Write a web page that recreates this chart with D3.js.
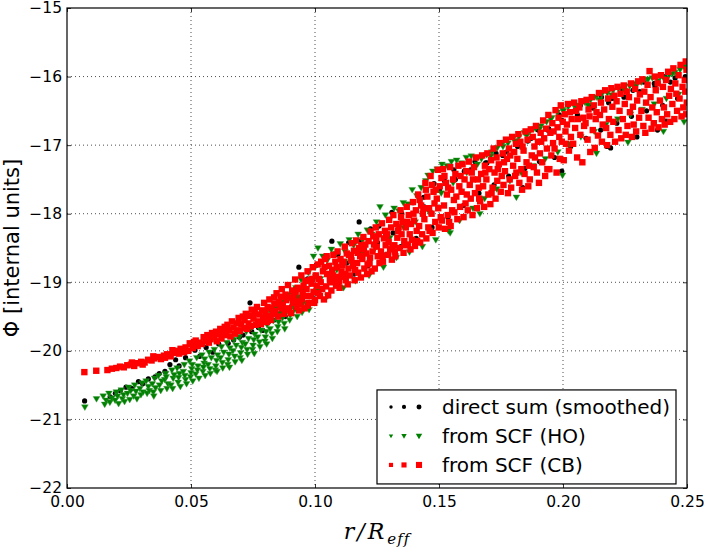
<!DOCTYPE html>
<html>
<head>
<meta charset="utf-8">
<script src="https://cdn.jsdelivr.net/npm/d3@7/dist/d3.min.js"></script>
<style>
  html, body { margin: 0; padding: 0; background: #fff; }
  svg { display: block; }
</style>
</head>
<body>
<div id="chart"></div>
<script>
/** tick values and labels */
const xTicks = [0, 0.05, 0.1, 0.15, 0.2, 0.25];
const yTicks = [-22, -21, -20, -19, -18, -17, -16, -15];
const xDomain = [0, 0.25];
const yDomain = [-22, -15];
const legendLabels = ["direct sum (smoothed)", "from SCF (HO)", "from SCF (CB)"];

/** direct sum (smoothed): [r/Reff, Phi] */
const directSum = [
  [0.0071,-20.73],[0.0174,-20.67],[0.0195,-20.62],[0.0215,-20.58],[0.0238,-20.53],[0.0262,-20.55],
  [0.0288,-20.45],[0.0305,-20.48],[0.0328,-20.41],[0.0355,-20.38],[0.0372,-20.33],[0.0395,-20.3],
  [0.0415,-20.2],[0.0438,-20.13],[0.0452,-20.22],[0.0478,-20.1],[0.0516,-19.99],[0.0535,-20.08],
  [0.0561,-19.95],[0.0588,-20.02],[0.0612,-19.9],[0.065,-19.89],[0.0672,-19.84],[0.0695,-19.8],
  [0.071,-19.77],[0.0738,-19.3],[0.0745,-19.72],[0.0772,-19.66],[0.079,-19.7],[0.0812,-19.58],
  [0.0835,-19.55],[0.0862,-19.45],[0.088,-19.5],[0.0905,-19.35],[0.092,-19.1],[0.0946,-19.25],
  [0.097,-18.95],[0.0988,-19.2],[0.0935,-18.78],[0.1068,-18.4],[0.1178,-18.12],
  [0.1005,-18.75],[0.1048,-18.62],[0.1092,-18.6],[0.1136,-18.42],[0.118,-18.4],[0.1224,-18.22],
  [0.1258,-18.18],[0.131,-17.98],[0.135,-18.0],[0.1395,-17.84],[0.1438,-17.76],[0.148,-17.56],
  [0.1522,-17.52],[0.156,-17.36],[0.1602,-17.38],[0.1645,-17.24],[0.1688,-17.26],[0.173,-17.12],
  [0.1772,-17.1],[0.1815,-16.94],[0.1858,-16.94],[0.19,-16.78],[0.1942,-16.76],[0.1985,-16.56],
  [0.2028,-16.52],[0.207,-16.42],[0.2112,-16.42],[0.2155,-16.3],[0.2198,-16.32],[0.224,-16.18],
  [0.2282,-16.2],[0.2325,-16.08],[0.2368,-16.1],[0.241,-16.0],[0.2452,-16.02],[0.2495,-15.86],
  [0.1018,-19.12],[0.1064,-18.9],[0.1093,-19.02],[0.1127,-18.72],[0.1158,-18.88],[0.1189,-18.55],
  [0.1213,-18.76],[0.1252,-18.42],[0.1283,-18.6],[0.1315,-18.28],[0.1346,-18.48],[0.1373,-18.16],
  [0.1408,-18.36],[0.1441,-17.9],[0.1472,-18.2],[0.1502,-17.66],[0.1536,-18.05],[0.1566,-17.5],
  [0.1598,-17.88],[0.1627,-17.36],[0.1661,-17.7],[0.1693,-17.26],[0.1722,-17.58],[0.1757,-17.15],
  [0.1781,-17.45],[0.1817,-17.02],[0.1846,-17.34],[0.1872,-16.9],[0.1905,-17.24],[0.1938,-16.78],
  [0.1966,-17.18],[0.1996,-16.64],[0.2031,-17.02],[0.2058,-16.56],[0.2093,-16.9],[0.2121,-16.46],
  [0.2152,-16.78],[0.2184,-16.38],[0.2217,-16.68],[0.2246,-16.3],[0.2276,-16.58],[0.2309,-16.22],
  [0.2337,-16.5],[0.2371,-16.14],[0.2402,-16.42],[0.2433,-16.08],[0.2462,-16.32],[0.2493,-16.0],
  [0.1838,-17.62],[0.1995,-17.38],[0.2178,-17.02],[0.2298,-16.88],[0.2415,-16.65],[0.2381,-16.78],
  [0.2192,-17.04]
];

/** from SCF (HO) */
const scfHO = [
  [0.0072,-20.82],[0.0119,-20.7],
  [0.0146,-20.66],[0.0152,-20.78],[0.0158,-20.72],[0.0169,-20.62],[0.0173,-20.75],[0.0181,-20.69],
  [0.0194,-20.72],[0.0199,-20.6],[0.0204,-20.66],[0.0208,-20.77],[0.0219,-20.57],[0.0223,-20.7],
  [0.0228,-20.64],[0.0232,-20.74],[0.0244,-20.62],[0.0248,-20.53],[0.0253,-20.71],[0.0257,-20.58],
  [0.0269,-20.66],[0.0273,-20.5],[0.0278,-20.59],[0.0282,-20.7],[0.0294,-20.55],[0.0298,-20.64],
  [0.0303,-20.47],[0.0307,-20.6],[0.0319,-20.44],[0.0323,-20.62],[0.0328,-20.52],[0.0332,-20.58],
  [0.0344,-20.48],[0.0348,-20.6],[0.0353,-20.4],[0.0357,-20.54],[0.035,-20.66],[0.0369,-20.36],
  [0.0373,-20.5],[0.0378,-20.58],[0.0382,-20.44],[0.0394,-20.42],[0.0398,-20.33],[0.0403,-20.55],
  [0.0407,-20.48],[0.04,-20.38],[0.0419,-20.5],[0.0423,-20.28],[0.0428,-20.4],[0.0432,-20.35],
  [0.0426,-20.55],[0.0444,-20.25],[0.0448,-20.46],[0.0453,-20.33],[0.0457,-20.52],[0.045,-20.39],
  [0.0469,-20.3],[0.0473,-20.2],[0.0478,-20.42],[0.0482,-20.48],[0.0475,-20.36],[0.0494,-20.15],
  [0.0498,-20.38],[0.0503,-20.26],[0.0507,-20.44],[0.05,-20.32],[0.0505,-20.2],[0.0519,-20.34],
  [0.0523,-20.1],[0.0528,-20.22],[0.0532,-20.4],[0.0526,-20.28],[0.0544,-20.06],[0.0548,-20.3],
  [0.0553,-20.18],[0.0557,-20.36],[0.055,-20.24],[0.0555,-20.12],[0.0569,-20.2],[0.0573,-20.02],
  [0.0578,-20.33],[0.0582,-20.1],[0.0576,-20.26],[0.0594,-19.98],[0.0598,-20.28],[0.0603,-20.14],
  [0.0607,-20.06],[0.06,-20.22],[0.0605,-20.3],[0.0619,-20.1],[0.0623,-19.94],[0.0628,-20.25],
  [0.0632,-20.02],[0.0626,-20.17],[0.0644,-19.88],[0.0648,-20.2],[0.0653,-20.05],[0.0657,-19.96],
  [0.065,-20.13],[0.0655,-20.24],[0.0669,-20.0],[0.0673,-19.84],[0.0678,-20.16],[0.0682,-19.92],
  [0.0676,-20.08],[0.0694,-19.8],[0.0698,-20.1],[0.0703,-19.95],[0.0707,-19.88],[0.07,-20.03],
  [0.0705,-20.14],[0.0719,-19.9],[0.0723,-19.72],[0.0728,-20.05],[0.0732,-19.82],[0.0726,-19.98],
  [0.0744,-19.66],[0.0748,-19.98],[0.0753,-19.84],[0.0757,-19.76],[0.075,-19.92],[0.0755,-20.04],
  [0.0769,-19.8],[0.0773,-19.58],[0.0778,-19.94],[0.0782,-19.7],[0.0776,-19.87],[0.0794,-19.5],
  [0.0798,-19.86],[0.0803,-19.72],[0.0807,-19.62],[0.08,-19.8],[0.0805,-19.9],[0.0819,-19.68],
  [0.0823,-19.44],[0.0828,-19.82],[0.0832,-19.56],[0.0826,-19.75],[0.0844,-19.36],[0.0848,-19.72],
  [0.0853,-19.58],[0.0857,-19.46],[0.085,-19.65],[0.0869,-19.52],[0.0873,-19.28],[0.0878,-19.68],
  [0.0882,-19.4],[0.0876,-19.6],[0.0894,-19.18],[0.0898,-19.55],[0.0903,-19.38],[0.0907,-19.28],
  [0.09,-19.48],[0.0919,-19.4],[0.0923,-19.08],[0.0928,-19.5],[0.0932,-19.22],[0.0926,-19.32],
  [0.0944,-18.96],[0.0948,-19.44],[0.0953,-19.3],[0.0957,-19.12],[0.095,-19.2],[0.0969,-19.36],
  [0.0973,-18.86],[0.0978,-19.2],[0.0982,-19.02],[0.0976,-19.4],[0.0994,-18.62],[0.0998,-19.3],
  [0.1003,-18.92],[0.1007,-19.12],[0.1,-18.78],
  [0.1012,-18.5],[0.1031,-18.62],[0.1049,-18.68],[0.1066,-18.52],[0.1084,-18.58],[0.1102,-18.44],
  [0.1121,-18.55],[0.1138,-18.38],[0.1156,-18.46],[0.1174,-18.3],[0.1192,-18.38],[0.1211,-18.24],
  [0.1229,-18.3],[0.1248,-18.12],[0.1262,-17.9],[0.1284,-18.02],[0.1301,-18.08],[0.1319,-17.92],
  [0.1338,-17.96],[0.1356,-17.84],[0.1375,-17.86],[0.1392,-17.65],[0.1411,-17.74],[0.1428,-17.62],
  [0.1447,-17.52],[0.1456,-17.44],[0.1475,-17.38],[0.1493,-17.35],[0.1512,-17.28],[0.1532,-17.3],
  [0.155,-17.24],[0.1571,-17.22],[0.159,-17.26],[0.161,-17.18],[0.163,-17.16],
  [0.1652,-17.18],[0.1671,-17.2],[0.1692,-17.14],[0.1713,-17.1],[0.1735,-17.04],[0.1756,-16.98],
  [0.1778,-16.97],[0.1799,-16.9],[0.1822,-16.88],[0.1844,-16.82],[0.1866,-16.8],[0.1888,-16.76],
  [0.1911,-16.72],[0.1934,-16.66],[0.1955,-16.6],[0.1977,-16.52],[0.1998,-16.48],[0.2021,-16.44],
  [0.2044,-16.42],[0.2066,-16.42],[0.2089,-16.38],[0.2111,-16.34],[0.2134,-16.3],[0.2156,-16.26],
  [0.2179,-16.24],[0.2202,-16.2],[0.2224,-16.18],[0.2247,-16.16],[0.2269,-16.14],[0.2292,-16.1],
  [0.2316,-16.08],[0.2338,-16.04],[0.236,-16.02],[0.2383,-16.06],[0.2405,-16.02],[0.2428,-15.98],
  [0.2451,-15.94],[0.2472,-15.9],[0.2494,-15.84],
  [0.1022,-18.95],[0.1051,-19.2],[0.1088,-18.82],[0.1115,-19.08],[0.1142,-18.7],[0.1163,-18.98],
  [0.1196,-18.58],[0.1218,-18.9],[0.1243,-18.5],[0.1276,-18.78],[0.1302,-18.35],[0.1328,-18.64],
  [0.1357,-18.2],[0.1381,-18.56],[0.1404,-18.12],[0.1433,-18.48],[0.1461,-17.98],[0.1487,-18.38],
  [0.1509,-17.7],[0.1538,-18.25],[0.1557,-17.55],[0.1583,-18.1],[0.1612,-17.4],[0.1637,-17.92],
  [0.1655,-17.28],[0.1684,-17.78],[0.1709,-17.16],[0.1733,-17.64],[0.1758,-17.02],[0.1786,-17.52],
  [0.1806,-16.94],[0.1831,-17.4],[0.1854,-16.86],[0.1879,-17.3],[0.1906,-16.76],[0.1929,-17.2],
  [0.1951,-16.62],[0.1979,-17.1],[0.2002,-16.5],[0.2026,-16.98],[0.2055,-16.46],[0.2072,-16.88],
  [0.2101,-16.42],[0.2126,-16.8],[0.2147,-16.34],[0.2173,-16.7],[0.2196,-16.27],[0.2221,-16.62],
  [0.2248,-16.2],[0.2272,-16.55],[0.2294,-16.14],[0.2319,-16.48],[0.2343,-16.04],[0.2368,-16.4],
  [0.2392,-16.0],[0.2417,-16.32],[0.2441,-15.96],[0.2466,-16.26],[0.2489,-15.86],
  [0.1812,-17.76],[0.1998,-17.44],[0.2135,-17.12],[0.2262,-16.96],[0.2405,-16.8],[0.2488,-16.66],
  [0.1665,-18.0],[0.1545,-18.28]
];

/** from SCF (CB) */
const scfCB = [
  [0.007,-20.31],[0.0118,-20.29],[0.0163,-20.28],[0.0181,-20.26],[0.0199,-20.25],[0.0214,-20.23],
  [0.0229,-20.24],[0.0243,-20.21],[0.0258,-20.2],[0.0262,-20.17],[0.0271,-20.22],[0.0286,-20.18],
  [0.0299,-20.16],[0.0305,-20.2],[0.0313,-20.17],[0.0327,-20.13],[0.0341,-20.14],[0.0348,-20.08],
  [0.0352,-20.11],[0.0366,-20.09],[0.0379,-20.12],[0.0391,-20.07],[0.0395,-20.1],[0.0404,-20.05],
  [0.0418,-20.08],[0.0425,-19.99],[0.0429,-20.03],[0.0441,-20.0],[0.0452,-20.04],[0.0458,-19.97],
  [0.0466,-19.98],[0.0472,-20.02],[0.0478,-19.95],[0.0489,-20.0],[0.0495,-19.89],
  [0.0498,-19.9],[0.0507,-19.96],[0.0512,-19.87],[0.0519,-19.85],[0.0527,-19.93],[0.0533,-19.88],
  [0.0544,-19.9],[0.0551,-19.8],[0.0558,-19.86],[0.0566,-19.77],[0.0572,-19.88],[0.0579,-19.83],
  [0.0585,-19.74],[0.0594,-19.8],[0.0601,-19.72],[0.0604,-19.86],[0.0611,-19.76],[0.0618,-19.68],
  [0.0623,-19.82],[0.0629,-19.74],[0.0636,-19.65],[0.0642,-19.77],[0.0647,-19.62],[0.0653,-19.7],
  [0.0659,-19.79],[0.0665,-19.57],[0.0671,-19.66],[0.0678,-19.75],[0.0684,-19.6],[0.0686,-19.7],
  [0.0692,-19.52],[0.0697,-19.71],[0.0703,-19.61],[0.0709,-19.5],[0.0711,-19.67],[0.0716,-19.55],
  [0.0721,-19.46],[0.0727,-19.68],[0.0732,-19.6],[0.0736,-19.49],[0.0741,-19.64],[0.0745,-19.4],
  [0.0752,-19.53],[0.0757,-19.45],[0.0761,-19.62],[0.0766,-19.36],[0.0771,-19.57],[0.0776,-19.47],
  [0.0782,-19.61],[0.0786,-19.41],[0.0791,-19.52],[0.0795,-19.3],[0.0801,-19.44],[0.0806,-19.58],
  [0.0809,-19.36],[0.0812,-19.49],[0.0816,-19.25],[0.0821,-19.55],[0.0826,-19.38],[0.0831,-19.46],
  [0.0835,-19.22],[0.0836,-19.31],[0.0841,-19.42],[0.0845,-19.16],[0.0851,-19.5],[0.0855,-19.29],
  [0.0859,-19.36],[0.0861,-19.21],[0.0866,-19.1],[0.087,-19.33],[0.0876,-19.46],[0.0881,-19.18],
  [0.0884,-19.26],[0.0886,-19.4],[0.0891,-19.04],[0.0895,-19.38],[0.0899,-19.22],[0.0904,-19.45],
  [0.0908,-19.12],[0.0911,-19.3],[0.0916,-19.2],[0.092,-18.96],[0.0925,-19.36],[0.093,-19.08],
  [0.0933,-19.28],[0.0936,-19.41],[0.0922,-19.14],[0.0941,-19.32],[0.0945,-18.9],[0.095,-19.16],
  [0.0954,-19.05],[0.0958,-19.38],[0.0961,-18.98],[0.0947,-19.24],[0.0966,-19.1],[0.097,-18.84],
  [0.0974,-19.3],[0.0979,-18.97],[0.0983,-19.2],[0.0986,-19.02],[0.0971,-19.34],[0.0991,-18.78],
  [0.0994,-19.14],[0.1,-19.26],[0.1003,-18.9],[0.1007,-19.05],[0.1011,-18.74],[0.0997,-19.3],
  [0.1016,-18.95],[0.102,-19.2],[0.1025,-18.7],[0.1029,-19.1],[0.1032,-18.84],[0.1036,-19.25],
  [0.1023,-19.0],[0.1041,-18.66],[0.1045,-19.06],[0.1049,-18.88],[0.1053,-19.19],[0.1057,-18.76],
  [0.106,-18.96],[0.1047,-18.62],[0.1066,-19.12],[0.1069,-18.82],[0.1074,-18.6],[0.1078,-18.98],
  [0.1082,-18.7],[0.1085,-19.05],[0.1072,-18.9],[0.1091,-18.55],[0.1094,-18.92],[0.1099,-19.08],
  [0.1103,-18.66],[0.1107,-18.84],[0.111,-18.75],[0.1097,-18.99],[0.1116,-18.7],[0.112,-18.48],
  [0.1124,-18.97],[0.1128,-18.58],[0.1132,-19.03],[0.1135,-18.8],[0.1122,-18.88],[0.1141,-18.9],
  [0.1145,-18.62],[0.1149,-18.43],[0.1153,-18.76],[0.1157,-18.54],[0.116,-18.97],[0.1147,-18.68],
  [0.1166,-18.39],[0.117,-18.72],[0.1174,-18.86],[0.1178,-18.5],[0.1182,-18.62],[0.1185,-18.93],
  [0.1172,-18.57],[0.1191,-18.66],[0.1195,-18.34],[0.1199,-18.8],[0.1203,-18.45],[0.1207,-18.58],
  [0.121,-18.88],[0.1197,-18.52],[0.1216,-18.4],[0.122,-18.72],[0.1224,-18.26],[0.1228,-18.84],
  [0.1232,-18.55],[0.1235,-18.33],[0.1222,-18.64],[0.1241,-18.8],[0.1245,-18.2],[0.1249,-18.48],
  [0.1253,-18.62],[0.1257,-18.3],[0.126,-18.72],[0.1247,-18.38],[0.1266,-18.55],[0.127,-18.14],
  [0.1274,-18.7],[0.1278,-18.36],[0.1282,-18.25],[0.1285,-18.46],[0.1272,-18.62],[0.1291,-18.3],
  [0.1295,-18.6],[0.1299,-18.09],[0.1303,-18.52],[0.1307,-18.2],[0.131,-18.67],[0.1297,-18.41],
  [0.1316,-18.02],[0.132,-18.46],[0.1324,-18.62],[0.1328,-18.15],[0.1332,-18.35],[0.1335,-18.25],
  [0.1322,-18.55],[0.1341,-18.5],[0.1345,-17.95],[0.1349,-18.3],[0.1353,-18.12],[0.1357,-18.57],
  [0.136,-18.4],[0.1347,-18.05],[0.1366,-18.2],[0.137,-17.9],[0.1374,-18.45],[0.1378,-18.02],
  [0.1382,-18.3],[0.1385,-18.52],[0.1372,-18.12],[0.1391,-18.38],[0.1395,-17.83],[0.1399,-18.1],
  [0.1403,-18.47],[0.1407,-17.95],[0.141,-18.25],[0.1397,-18.0],[0.1416,-17.72],[0.142,-18.18],
  [0.1424,-18.42],[0.1428,-17.88],[0.1432,-18.3],[0.1435,-18.0],[0.1422,-17.8],[0.1441,-18.08],
  [0.1445,-17.55],[0.1449,-18.36],[0.1453,-17.75],[0.1457,-18.2],[0.146,-17.92],[0.1447,-17.65],
  [0.1466,-17.45],[0.147,-18.0],[0.1474,-18.28],[0.1478,-17.68],[0.1482,-17.85],[0.1485,-18.12],
  [0.1472,-17.58],[0.1491,-17.78],[0.1495,-17.36],[0.1499,-18.2],[0.1503,-17.6],[0.1507,-18.05],
  [0.151,-17.48],[0.1497,-17.92],[0.1516,-17.35],[0.152,-17.88],[0.1524,-18.22],[0.1528,-17.55],
  [0.1532,-17.72],[0.1535,-18.02],[0.1522,-17.45],[0.1541,-18.12],[0.1545,-17.32],[0.1549,-17.65],
  [0.1553,-17.95],[0.1557,-17.5],[0.156,-17.8],[0.1547,-18.18],[0.1566,-17.42],[0.157,-17.75],
  [0.1574,-18.08],[0.1578,-17.3],[0.1582,-17.6],[0.1585,-17.9],[0.1591,-17.68],[0.1595,-17.28],
  [0.1599,-18.05],[0.1603,-17.5],[0.1607,-17.85],[0.161,-17.38],[0.1616,-17.95],[0.162,-17.24],
  [0.1624,-17.58],[0.1628,-17.78],[0.1632,-17.4],[0.1635,-18.02],[0.1641,-17.32],[0.1645,-17.7],
  [0.1649,-17.18],[0.1653,-17.92],[0.1657,-17.5],[0.166,-17.62],[0.1666,-17.82],[0.167,-17.42],
  [0.1674,-17.15],[0.1678,-17.6],[0.1682,-17.9],[0.1685,-17.3],[0.1691,-17.5],[0.1695,-17.12],
  [0.1699,-17.72],[0.1703,-17.35],[0.1707,-17.86],[0.171,-17.22],[0.1716,-17.62],[0.172,-17.05],
  [0.1724,-17.4],[0.1728,-17.78],[0.1732,-17.18],[0.1735,-17.52],[0.1741,-17.28],[0.1745,-16.97],
  [0.1749,-17.68],[0.1753,-17.45],[0.1757,-17.12],[0.176,-17.58],[0.1766,-17.38],[0.177,-16.92],
  [0.1774,-17.2],[0.1778,-17.7],[0.1782,-17.05],[0.1785,-17.5],[0.1791,-17.62],[0.1795,-16.88],
  [0.1799,-17.3],[0.1803,-17.1],[0.1807,-17.45],[0.181,-16.98],[0.1816,-17.2],[0.182,-16.84],
  [0.1824,-17.55],[0.1828,-16.95],[0.1832,-17.35],[0.1835,-17.65],[0.1841,-17.08],[0.1845,-17.42],
  [0.1849,-16.8],[0.1853,-17.25],[0.1857,-16.92],[0.186,-17.6],[0.1866,-17.5],[0.187,-16.77],
  [0.1874,-17.15],[0.1878,-16.88],[0.1882,-17.32],[0.1885,-17.02],[0.1891,-16.72],[0.1895,-17.4],
  [0.1899,-16.95],[0.1903,-17.55],[0.1907,-17.12],[0.191,-16.82],[0.1916,-17.25],[0.192,-16.64],
  [0.1924,-16.9],[0.1928,-17.45],[0.1932,-16.76],[0.1935,-17.05],[0.1941,-16.56],[0.1945,-17.35],
  [0.1949,-16.82],[0.1953,-17.15],[0.1957,-16.68],[0.196,-16.97],[0.1966,-17.05],[0.197,-16.49],
  [0.1974,-17.4],[0.1978,-16.74],[0.1982,-16.6],[0.1985,-16.88],[0.1991,-16.42],[0.1995,-16.95],
  [0.1999,-16.66],[0.2003,-17.22],[0.2007,-16.55],[0.201,-16.8],[0.2016,-16.7],[0.202,-16.4],
  [0.2024,-17.08],[0.2028,-16.52],[0.2032,-16.88],[0.2035,-16.62],[0.2041,-16.98],[0.2045,-16.38],
  [0.2049,-16.75],[0.2053,-16.5],[0.2057,-17.18],[0.206,-16.62],[0.2066,-16.45],[0.207,-16.85],
  [0.2074,-16.36],[0.2078,-17.25],[0.2082,-16.6],[0.2085,-16.72],[0.2091,-16.68],[0.2095,-16.34],
  [0.2099,-16.92],[0.2103,-16.48],[0.2107,-16.58],[0.211,-17.1],[0.2116,-16.3],[0.212,-16.78],
  [0.2124,-16.42],[0.2128,-17.04],[0.2132,-16.62],[0.2135,-16.52],[0.2141,-16.86],[0.2145,-16.24],
  [0.2149,-16.56],[0.2153,-16.38],[0.2157,-16.95],[0.216,-16.7],[0.2166,-16.48],[0.217,-16.2],
  [0.2174,-16.75],[0.2178,-17.0],[0.2182,-16.32],[0.2185,-16.62],[0.2191,-16.85],[0.2195,-16.17],
  [0.2199,-16.44],[0.2203,-16.66],[0.2207,-16.28],[0.221,-16.95],[0.2216,-16.36],[0.222,-16.15],
  [0.2224,-16.78],[0.2228,-16.5],[0.2232,-16.25],[0.2235,-16.9],[0.2241,-16.62],[0.2245,-16.13],
  [0.2249,-16.4],[0.2253,-16.85],[0.2257,-16.22],[0.226,-16.72],[0.2266,-16.3],[0.227,-16.52],
  [0.2274,-16.1],[0.2278,-16.88],[0.2282,-16.44],[0.2285,-16.7],[0.2291,-16.18],[0.2295,-16.8],
  [0.2299,-16.35],[0.2303,-16.07],[0.2307,-16.6],[0.231,-16.26],[0.2316,-16.5],[0.232,-16.04],
  [0.2324,-16.72],[0.2328,-16.22],[0.2332,-16.82],[0.2335,-16.38],[0.2341,-16.12],[0.2345,-16.6],
  [0.2349,-15.92],[0.2353,-16.3],[0.2357,-16.76],[0.236,-16.45],[0.2366,-16.68],[0.237,-16.0],
  [0.2374,-16.2],[0.2378,-16.52],[0.2382,-16.1],[0.2385,-16.74],[0.2391,-16.35],[0.2395,-15.98],
  [0.2399,-16.62],[0.2403,-16.15],[0.2407,-16.45],[0.241,-16.7],[0.2416,-16.05],[0.242,-16.55],
  [0.2424,-15.93],[0.2428,-16.28],[0.2432,-16.66],[0.2435,-16.18],[0.2441,-16.4],[0.2445,-15.88],
  [0.2449,-16.62],[0.2453,-16.1],[0.2457,-16.25],[0.246,-16.5],[0.2466,-15.98],[0.247,-16.32],
  [0.2474,-15.83],[0.2478,-16.58],[0.2482,-16.15],[0.2485,-16.45],[0.2491,-16.05],[0.2495,-15.78],
  [0.2499,-16.38],[0.2497,-16.55],[0.2493,-16.22],[0.2498,-15.9],
  [0.0868,-19.38],[0.0913,-19.25],[0.0939,-19.1],[0.0963,-19.2],[0.0989,-18.95],[0.1013,-19.16],
  [0.1038,-18.78],[0.1062,-19.0],[0.1087,-18.78],[0.1112,-18.92],[0.1137,-18.6],[0.1162,-18.82],
  [0.1187,-18.46],[0.1212,-18.74],[0.1238,-18.45],[0.1262,-18.62],[0.1287,-18.34],[0.1312,-18.5],
  [0.1337,-18.2],[0.1362,-18.46],[0.1387,-18.15],[0.1412,-18.4],[0.1437,-17.92],[0.1462,-18.25],
  [0.1487,-17.65],[0.1512,-18.1],[0.1537,-17.62],[0.1562,-17.98],[0.1587,-17.45],[0.1612,-17.72],
  [0.1637,-17.5],[0.1662,-17.78],[0.1687,-17.4],[0.1712,-17.7],[0.1737,-17.35],[0.1762,-17.25],
  [0.1787,-17.15],[0.1812,-17.4],[0.1837,-17.02],[0.1862,-17.3],[0.1887,-17.18],[0.1912,-16.95],
  [0.1937,-17.35],[0.1962,-16.8],[0.1987,-17.2],[0.2012,-16.98]
];

/** layout */
const W = 704, H = 548;
const margin = { left: 67, top: 8, right: 17, bottom: 60 };
const pw = W - margin.left - margin.right;
const ph = H - margin.top - margin.bottom;

const svg = d3.select("#chart").append("svg")
  .attr("width", W).attr("height", H)
  .attr("font-family", "'DejaVu Sans', sans-serif");

const x = d3.scaleLinear().domain(xDomain).range([0, pw]);
const y = d3.scaleLinear().domain(yDomain).range([ph, 0]);

const g = svg.append("g").attr("transform", `translate(${margin.left},${margin.top})`);

/** clip markers to axes */
g.append("clipPath").attr("id", "clip")
  .append("rect").attr("width", pw).attr("height", ph);

/** grid */
const grid = g.append("g").attr("stroke", "#000").attr("stroke-width", 0.7)
  .attr("stroke-dasharray", "1,3");
grid.selectAll(".gx").data(xTicks.slice(1, -1)).join("line")
  .attr("x1", d => x(d)).attr("x2", d => x(d)).attr("y1", 0).attr("y2", ph);
grid.selectAll(".gy").data(yTicks.slice(1, -1)).join("line")
  .attr("y1", d => y(d)).attr("y2", d => y(d)).attr("x1", 0).attr("x2", pw);

const pts = g.append("g").attr("clip-path", "url(#clip)");

/** direct sum: black circles */
pts.append("g").selectAll("circle").data(directSum).join("circle")
  .attr("cx", d => x(d[0])).attr("cy", d => y(d[1])).attr("r", 2.6)
  .attr("fill", "#000");

/** HO: green down triangles */
const tri = "M-3.4,-2.3L3.4,-2.3L0,3.4Z";
pts.append("g").selectAll("path").data(scfHO).join("path")
  .attr("d", tri)
  .attr("transform", d => `translate(${x(d[0])},${y(d[1])})`)
  .attr("fill", "#008000").attr("stroke", "#3a9a3a").attr("stroke-width", 0.4);

/** CB: red squares */
const sq = 6.4;
pts.append("g").selectAll("rect").data(scfCB).join("rect")
  .attr("x", d => x(d[0]) - sq / 2).attr("y", d => y(d[1]) - sq / 2)
  .attr("width", sq).attr("height", sq)
  .attr("fill", "#ff0000");

/** axes, ticks pointing inward */
const fmtX = d3.format(".2f");
const fmtY = d3.format("d");
const styleAxis = (sel) => {
  sel.select(".domain").remove();
  sel.selectAll("line").attr("stroke", "#000").attr("stroke-width", 0.8);
  sel.selectAll("text").attr("font-size", 15.5).attr("fill", "#000")
    .attr("font-family", "'DejaVu Sans', sans-serif");
};
g.append("g").attr("transform", `translate(0,${ph})`)
  .call(d3.axisBottom(x).tickValues(xTicks).tickFormat(fmtX).tickSizeInner(-4).tickSizeOuter(0).tickPadding(8))
  .call(styleAxis);
g.append("g")
  .call(d3.axisTop(x).tickValues(xTicks).tickFormat("").tickSizeInner(-4).tickSizeOuter(0))
  .call(styleAxis);
g.append("g")
  .call(d3.axisLeft(y).tickValues(yTicks).tickFormat(fmtY).tickSizeInner(-4).tickSizeOuter(0).tickPadding(5))
  .call(styleAxis);
g.append("g").attr("transform", `translate(${pw},0)`)
  .call(d3.axisRight(y).tickValues(yTicks).tickFormat("").tickSizeInner(-4).tickSizeOuter(0))
  .call(styleAxis);

/** frame */
g.append("rect").attr("width", pw).attr("height", ph)
  .attr("fill", "none").attr("stroke", "#000").attr("stroke-width", 1.2);

/** legend */
const lg = g.append("g").attr("transform", `translate(${x(0.125)},${y(-20.57)})`);
lg.append("rect").attr("width", 299).attr("height", 94)
  .attr("fill", "#fff").attr("stroke", "#000").attr("stroke-width", 1.2);
const legendRows = [
  { label: legendLabels[0], kind: "circle" },
  { label: legendLabels[1], kind: "tri" },
  { label: legendLabels[2], kind: "sq" }
];
const mx = [14, 27, 42];
const ms = [0.65, 0.8, 0.95];
legendRows.forEach((row, i) => {
  const ry = 17 + i * 29;
  mx.forEach((px, j) => {
    const s = ms[j];
    if (row.kind === "circle")
      lg.append("circle").attr("cx", px).attr("cy", ry).attr("r", 2.6 * s).attr("fill", "#000");
    else if (row.kind === "tri")
      lg.append("path").attr("d", tri)
        .attr("transform", `translate(${px},${ry}) scale(${s})`)
        .attr("fill", "#008000");
    else
      lg.append("rect").attr("x", px - sq * s / 2).attr("y", ry - sq * s / 2)
        .attr("width", sq * s).attr("height", sq * s).attr("fill", "#ff0000");
  });
  lg.append("text").attr("x", 65).attr("y", ry).attr("dy", "0.35em")
    .attr("font-size", 20).text(row.label);
});

/** axis labels */
const xl = svg.append("text")
  .attr("x", margin.left + pw / 2).attr("y", 539)
  .attr("text-anchor", "middle")
  .attr("font-family", "'DejaVu Serif', serif")
  .attr("font-style", "italic").attr("font-size", 22);
xl.append("tspan").attr("letter-spacing", 3).text("r/R");
xl.append("tspan").attr("font-size", 15).attr("dy", 5).attr("letter-spacing", 1).text("eff");

svg.append("text")
  .attr("transform", `translate(19,${margin.top + ph / 2}) rotate(-90)`)
  .attr("text-anchor", "middle")
  .attr("font-size", 21)
  .text("Φ [internal units]");
</script>
</body>
</html>
